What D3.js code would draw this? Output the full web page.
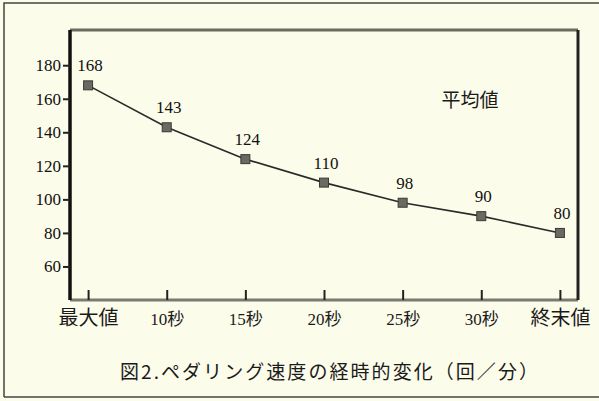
<!DOCTYPE html>
<html>
<head>
<meta charset="utf-8">
<script src="https://cdn.jsdelivr.net/npm/d3@7"></script>
<style>
  html, body { margin: 0; padding: 0; background: #fcfcea; }
  svg { display: block; }
</style>
</head>
<body>
<div id="chart"></div>
<script>
const width = 599;
const height = 401;

// data
const categories = ['最大値', '10秒', '15秒', '20秒', '25秒', '30秒', '終末値'];
const values = [168, 143, 124, 110, 98, 90, 80];
const yTicks = [60, 80, 100, 120, 140, 160, 180];
const seriesName = '平均値';
const title = '図2.ペダリング速度の経時的変化（回／分）';

const serif = "'Liberation Serif', 'DejaVu Serif', serif";
const cjk = "'Noto Sans CJK JP', sans-serif";

const margin = { left: 70, right: 21, top: 30, bottom: 101 };

const svg = d3.select('#chart')
    .append('svg')
    .attr('width', width)
    .attr('height', height);

svg.append('rect')
    .attr('width', width)
    .attr('height', height)
    .attr('fill', '#fcfcea');

// outer frame of the figure
const frame = svg.append('g')
    .attr('stroke', '#444')
    .attr('stroke-width', 1.5)
    .attr('fill', 'none');
frame.append('path').attr('d', 'M4,397 L4,3 L599,3');
frame.append('path').attr('d', 'M4,397 L599,397');

const x = d3.scalePoint()
    .domain(categories)
    .range([margin.left, width - margin.right])
    .padding(0.23);

const y = d3.scaleLinear()
    .domain([40, 201])
    .range([height - margin.bottom, margin.top]);

// plot box
const x0 = margin.left, x1 = width - margin.right;
const y0 = height - margin.bottom, y1 = margin.top;
svg.append('line')
    .attr('x1', x0).attr('x2', x1).attr('y1', y1).attr('y2', y1)
    .attr('stroke', '#6b6b60').attr('stroke-width', 3);
svg.append('line')
    .attr('x1', x0).attr('x2', x1).attr('y1', y0).attr('y2', y0)
    .attr('stroke', '#7a7a70').attr('stroke-width', 3);
svg.append('line')
    .attr('x1', x1).attr('x2', x1).attr('y1', y1).attr('y2', y0)
    .attr('stroke', '#222').attr('stroke-width', 3);

// y axis
const yAxis = svg.append('g')
    .attr('transform', 'translate(' + x0 + ',0)')
    .call(d3.axisLeft(y).tickValues(yTicks).tickSize(7).tickPadding(2).tickSizeOuter(0));
yAxis.attr('font-family', null).attr('font-size', null);
yAxis.select('.domain')
    .attr('stroke', '#111')
    .attr('stroke-width', 3.5)
    .attr('d', 'M0,' + y0 + 'V' + y1);
yAxis.selectAll('.tick line').attr('stroke', '#222').attr('stroke-width', 2);
yAxis.selectAll('.tick text')
    .style('font-family', serif)
    .style('font-size', '17px')
    .attr('fill', '#111');

// x axis (ticks point up into the plot)
const xAxis = svg.append('g')
    .attr('transform', 'translate(0,' + y0 + ')')
    .call(d3.axisBottom(x).tickSize(-10).tickSizeOuter(0).tickPadding(0));
xAxis.attr('font-family', null).attr('font-size', null);
xAxis.select('.domain').remove();
xAxis.selectAll('.tick line').attr('stroke', '#222').attr('stroke-width', 2);
xAxis.selectAll('.tick text')
    .attr('y', 25)
    .attr('dy', 0)
    .style('font-family', (d) => (d.endsWith('値') ? cjk : "'Liberation Serif', " + cjk))
    .style('font-size', (d) => (d.endsWith('値') ? '20px' : '17px'))
    .attr('fill', '#1a1a1a');

// line
const line = d3.line()
    .x((d, i) => x(categories[i]))
    .y((d) => y(d));

svg.append('path')
    .datum(values)
    .attr('fill', 'none')
    .attr('stroke', '#2a2a2a')
    .attr('stroke-width', 1.6)
    .attr('d', line);

// markers
svg.selectAll('.marker')
    .data(values)
    .enter()
    .append('rect')
    .attr('class', 'marker')
    .attr('x', (d, i) => x(categories[i]) - 4.5)
    .attr('y', (d) => y(d) - 4.5)
    .attr('width', 9)
    .attr('height', 9)
    .attr('fill', '#6a6a62')
    .attr('stroke', '#3a3a35')
    .attr('stroke-width', 1);

// value labels
svg.selectAll('.value')
    .data(values)
    .enter()
    .append('text')
    .attr('class', 'value')
    .attr('x', (d, i) => x(categories[i]) + 2)
    .attr('y', (d) => y(d) - 14)
    .attr('text-anchor', 'middle')
    .style('font-family', serif)
    .style('font-size', '17px')
    .attr('fill', '#111')
    .text((d) => d);

// series label
svg.append('text')
    .attr('x', 470)
    .attr('y', 107)
    .attr('text-anchor', 'middle')
    .style('font-family', cjk)
    .style('font-size', '19px')
    .attr('fill', '#1a1a1a')
    .text(seriesName);

// figure caption
svg.append('text')
    .attr('x', 120)
    .attr('y', 379)
    .attr('textLength', 418)
    .attr('lengthAdjust', 'spacing')
    .style('font-family', cjk)
    .style('font-size', '19px')
    .attr('fill', '#1a1a1a')
    .text(title);
</script>
</body>
</html>
